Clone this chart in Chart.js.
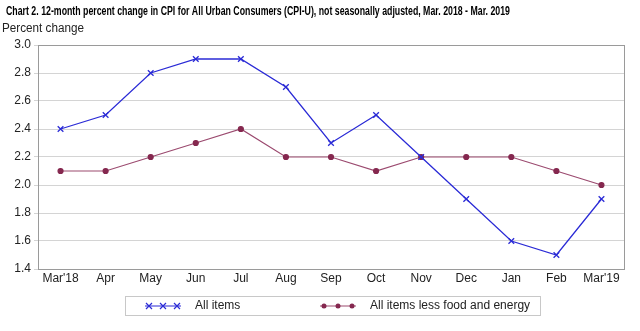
<!DOCTYPE html>
<html>
<head>
<meta charset="utf-8">
<script src="https://cdn.jsdelivr.net/npm/chart.js@4.4.1/dist/chart.umd.min.js"></script>
<style>
  html, body { margin: 0; padding: 0; background: #fff; }
  #wrap { width: 640px; height: 331px; }
</style>
</head>
<body>
<div id="wrap"><canvas id="cpiChart" width="640" height="331"></canvas></div>
<script>
const months = ["Mar'18", 'Apr', 'May', 'Jun', 'Jul', 'Aug', 'Sep', 'Oct', 'Nov', 'Dec', 'Jan', 'Feb', "Mar'19"];
const allItems = [2.4, 2.5, 2.8, 2.9, 2.9, 2.7, 2.3, 2.5, 2.2, 1.9, 1.6, 1.5, 1.9];
const coreItems = [2.1, 2.1, 2.2, 2.3, 2.4, 2.2, 2.2, 2.1, 2.2, 2.2, 2.2, 2.1, 2.0];
const seriesNames = ['All items', 'All items less food and energy'];
const chartTitle = 'Chart 2. 12-month percent change in CPI for All Urban Consumers (CPI-U), not seasonally adjusted, Mar. 2018 - Mar. 2019';
const yTitle = 'Percent change';

const blue = '#2b2bd6';
const maroon = '#9b4a6f';
const maroonDot = '#85284f';

// draws title, plot frame and boxed legend
const extras = {
    id: 'extras',
    afterDraw(chart) {
        const ctx = chart.ctx;
        const a = chart.chartArea;
        ctx.save();
        ctx.strokeStyle = '#9a9a9a';
        ctx.lineWidth = 1;
        ctx.strokeRect(Math.round(a.left) + 0.5, Math.round(a.top) + 0.5, Math.round(a.right - a.left), Math.round(a.bottom - a.top));

        ctx.fillStyle = '#000';
        ctx.textBaseline = 'middle';
        ctx.textAlign = 'left';
        // the original title font is condensed, squeeze it to the same width
        ctx.font = 'bold 12px "Liberation Sans", Arial, sans-serif';
        const w = ctx.measureText(chartTitle).width;
        ctx.save();
        ctx.translate(6, 12);
        ctx.scale(504 / w, 1);
        ctx.fillText(chartTitle, 0, 0);
        ctx.restore();

        ctx.font = '12px "Liberation Sans", Arial, sans-serif';
        ctx.fillStyle = '#222';
        const w2 = ctx.measureText(yTitle).width;
        ctx.save();
        ctx.translate(2, 29);
        ctx.scale(82 / w2, 1);
        ctx.fillText(yTitle, 0, 0);
        ctx.restore();

        // legend
        ctx.strokeStyle = '#c8c8c8';
        ctx.strokeRect(125.5, 296.5, 415, 19);
        const items = [
            { x: 145, color: blue, dot: blue, style: 'crossRot' },
            { x: 320, color: maroon, dot: maroonDot, style: 'circle' }
        ];
        items.forEach((it, i) => {
            const y = 306;
            ctx.strokeStyle = it.color;
            ctx.lineWidth = 1.2;
            ctx.beginPath();
            ctx.moveTo(it.x, y);
            ctx.lineTo(it.x + 36, y);
            ctx.stroke();
            [it.x + 4, it.x + 18, it.x + 32].forEach(px => {
                if (it.style === 'crossRot') {
                    ctx.beginPath();
                    ctx.moveTo(px - 3, y - 3); ctx.lineTo(px + 3, y + 3);
                    ctx.moveTo(px - 3, y + 3); ctx.lineTo(px + 3, y - 3);
                    ctx.stroke();
                } else {
                    ctx.fillStyle = it.dot;
                    ctx.beginPath();
                    ctx.arc(px, y, 2.5, 0, Math.PI * 2);
                    ctx.fill();
                }
            });
            ctx.fillStyle = '#222';
            ctx.font = '12px "Liberation Sans", Arial, sans-serif';
            ctx.fillText(seriesNames[i], it.x + 50, y);
        });
        ctx.restore();
    }
};

const ctx = document.getElementById('cpiChart').getContext('2d');
const cpiChart = new Chart(ctx, {
    type: 'line',
    data: {
        labels: months,
        datasets: [{
            label: seriesNames[0],
            data: allItems,
            borderColor: blue,
            borderWidth: 1.3,
            pointStyle: 'crossRot',
            pointRadius: 4,
            pointBorderColor: blue,
            pointBorderWidth: 1.3,
            tension: 0
        }, {
            label: seriesNames[1],
            data: coreItems,
            borderColor: maroon,
            borderWidth: 1.2,
            pointStyle: 'circle',
            pointRadius: 2.5,
            pointBackgroundColor: maroonDot,
            pointBorderColor: maroonDot,
            tension: 0
        }]
    },
    options: {
        responsive: false,
        animation: false,
        layout: { padding: { left: 0, right: 16, top: 45, bottom: 0 } },
        plugins: {
            legend: { display: false },
            title: { display: false },
            tooltip: { enabled: false }
        },
        scales: {
            x: {
                offset: true,
                grid: { display: false, drawTicks: false },
                border: { display: false },
                ticks: { color: '#222', font: { size: 12, family: '"Liberation Sans", Arial, sans-serif' }, padding: 2, maxRotation: 0, autoSkip: false },
                afterFit(scale) { scale.height = 62; }
            },
            y: {
                min: 1.4,
                max: 3.0,
                grid: { color: '#d4d4d4', drawTicks: true, tickLength: 4 },
                border: { display: false },
                ticks: {
                    stepSize: 0.2,
                    color: '#222',
                    padding: 3,
                    font: { size: 12, family: '"Liberation Sans", Arial, sans-serif' },
                    callback: v => v.toFixed(1)
                },
                afterFit(scale) { scale.width = 38; }
            }
        }
    },
    plugins: [extras]
});
</script>
</body>
</html>
